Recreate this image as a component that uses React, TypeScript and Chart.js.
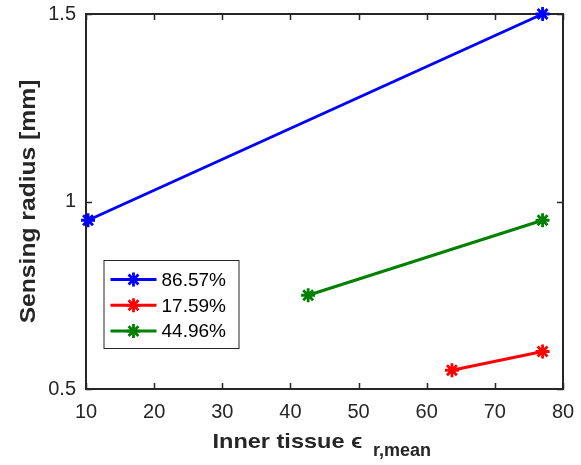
import React, { useEffect, useRef } from "react";
import { Chart, registerables } from "chart.js";

Chart.register(...registerables);

// ---- data ----
const seriesLabels = ["86.57%", "17.59%", "44.96%"];
const seriesColors = ["#0000FF", "#FF0000", "#008000"];
const blueX = [10.3, 77];
const blueY = [0.95, 1.5];
const redX = [63.7, 77];
const redY = [0.55, 0.6];
const greenX = [42.6, 77];
const greenY = [0.75, 0.95];
const xTicks = [10, 20, 30, 40, 50, 60, 70, 80];
const yTicks = [0.5, 1, 1.5];
const xTitleMain = "Inner tissue \u03F5";
const xTitleSub = "r,mean";
const yTitle = "Sensing radius [mm]";

const FONT = "'Liberation Sans', Arial, Helvetica, sans-serif";
const AXIS_COLOR = "#262626";

function toPoints(xs: number[], ys: number[]) {
  return xs.map((x, i) => ({ x, y: ys[i] }));
}

function drawStar(ctx: CanvasRenderingContext2D, x: number, y: number, r: number) {
  const d = r * Math.cos(Math.PI / 4);
  ctx.beginPath();
  ctx.moveTo(x - d, y - d);
  ctx.lineTo(x + d, y + d);
  ctx.moveTo(x - d, y + d);
  ctx.lineTo(x + d, y - d);
  ctx.moveTo(x - r, y);
  ctx.lineTo(x + r, y);
  ctx.moveTo(x, y - r);
  ctx.lineTo(x, y + r);
  ctx.stroke();
}

const framePlugin = {
  id: "matlabFrame",
  beforeDatasetsDraw(chart: any) {
    const { ctx, chartArea: a, scales } = chart;
    ctx.save();
    ctx.strokeStyle = AXIS_COLOR;
    ctx.lineWidth = 2;
    ctx.strokeRect(a.left, a.top, a.right - a.left, a.bottom - a.top);
    ctx.lineWidth = 1.5;
    const tl = 6;
    ctx.beginPath();
    xTicks.forEach((v) => {
      const px = Math.round(scales.x.getPixelForValue(v)) + 0.5;
      ctx.moveTo(px, a.bottom);
      ctx.lineTo(px, a.bottom - tl);
      ctx.moveTo(px, a.top);
      ctx.lineTo(px, a.top + tl);
    });
    yTicks.forEach((v) => {
      const py = Math.round(scales.y.getPixelForValue(v)) + 0.5;
      ctx.moveTo(a.left, py);
      ctx.lineTo(a.left + tl, py);
      ctx.moveTo(a.right, py);
      ctx.lineTo(a.right - tl, py);
    });
    ctx.stroke();
    ctx.restore();
  },
  afterDraw(chart: any) {
    const { ctx, chartArea: a } = chart;
    ctx.save();
    ctx.fillStyle = AXIS_COLOR;
    const sx = 1.12;
    // x title
    const cx = (a.left + a.right) / 2;
    ctx.textAlign = "left";
    ctx.textBaseline = "alphabetic";
    ctx.save();
    ctx.translate(cx - 112, a.bottom + 59);
    ctx.scale(sx, 1);
    ctx.font = `bold 21px ${FONT}`;
    ctx.fillText(xTitleMain, 0, 0);
    ctx.restore();
    ctx.font = `bold 18px ${FONT}`;
    ctx.fillText(xTitleSub, cx + 48.5, a.bottom + 67);
    // y title
    const cy = (a.top + a.bottom) / 2;
    ctx.save();
    ctx.translate(35, cy);
    ctx.rotate(-Math.PI / 2);
    ctx.scale(sx, 1);
    ctx.textAlign = "center";
    ctx.font = `bold 22px ${FONT}`;
    ctx.fillText(yTitle, 0, 0);
    ctx.restore();

    // legend
    const lx = a.left + 17.5;
    const ly = a.top + 246;
    const lw = 135;
    const lh = 88;
    ctx.fillStyle = "#FFFFFF";
    ctx.fillRect(lx, ly, lw, lh);
    ctx.strokeStyle = "#262626";
    ctx.lineWidth = 1;
    ctx.strokeRect(lx + 0.5, ly + 0.5, lw, lh);
    chart.data.datasets.forEach((ds: any, i: number) => {
      const yy = ly + 19.5 + i * 25.8;
      ctx.strokeStyle = ds.borderColor;
      ctx.lineWidth = 3;
      ctx.beginPath();
      ctx.moveTo(lx + 7, yy);
      ctx.lineTo(lx + 53, yy);
      ctx.stroke();
      ctx.lineWidth = 2.8;
      drawStar(ctx, lx + 30, yy, 7);
      ctx.fillStyle = "#000000";
      ctx.font = `19px ${FONT}`;
      ctx.textAlign = "left";
      ctx.textBaseline = "middle";
      ctx.fillText(ds.label, lx + 58, yy + 1);
    });
    ctx.restore();
  },
};

export default function App() {
  const ref = useRef<HTMLCanvasElement>(null);
  useEffect(() => {
    if (!ref.current) return;
    const allX = [blueX, redX, greenX];
    const allY = [blueY, redY, greenY];
    const chart = new Chart(ref.current, {
      type: "scatter",
      data: {
        datasets: seriesLabels.map((label, i) => ({
          label,
          data: toPoints(allX[i], allY[i]),
          showLine: true,
          borderColor: seriesColors[i],
          backgroundColor: seriesColors[i],
          borderWidth: 3,
          pointStyle: "star",
          pointRadius: 7,
          pointBorderWidth: 2.8,
          pointBorderColor: seriesColors[i],
          pointBackgroundColor: seriesColors[i],
          clip: false as any,
        })),
      },
      options: {
        animation: false,
        responsive: false,
        maintainAspectRatio: false,
        devicePixelRatio: 1,
        layout: { padding: { left: 0, right: 18, top: 14, bottom: 0 } },
        plugins: {
          legend: { display: false },
          tooltip: { enabled: false },
          title: { display: false },
        },
        scales: {
          x: {
            type: "linear",
            min: 10,
            max: 80,
            grid: { display: false, drawTicks: false },
            border: { display: false },
            ticks: {
              stepSize: 10,
              autoSkip: false,
              maxRotation: 0,
              color: AXIS_COLOR,
              padding: 11,
              font: { family: FONT, size: 20 },
              callback: (v: any) => String(v),
            },
            afterFit: (s: any) => {
              s.height = 76;
              s.paddingLeft = 0;
              s.paddingRight = 0;
            },
          },
          y: {
            type: "linear",
            min: 0.5,
            max: 1.5,
            grid: { display: false, drawTicks: false },
            border: { display: false },
            ticks: {
              stepSize: 0.5,
              autoSkip: false,
              color: AXIS_COLOR,
              padding: 10,
              font: { family: FONT, size: 20 },
              callback: (v: any) => String(Math.round(Number(v) * 10) / 10),
            },
            afterFit: (s: any) => {
              s.width = 86;
              s.paddingTop = 0;
              s.paddingBottom = 0;
            },
          },
        },
      },
      plugins: [framePlugin],
    } as any);
    return () => chart.destroy();
  }, []);
  return (
    <div style={{ position: "fixed", left: 0, top: 0, width: 581, height: 465, background: "#fff" }}>
      <canvas ref={ref} width={581} height={465} style={{ width: 581, height: 465, display: "block" }} />
    </div>
  );
}
